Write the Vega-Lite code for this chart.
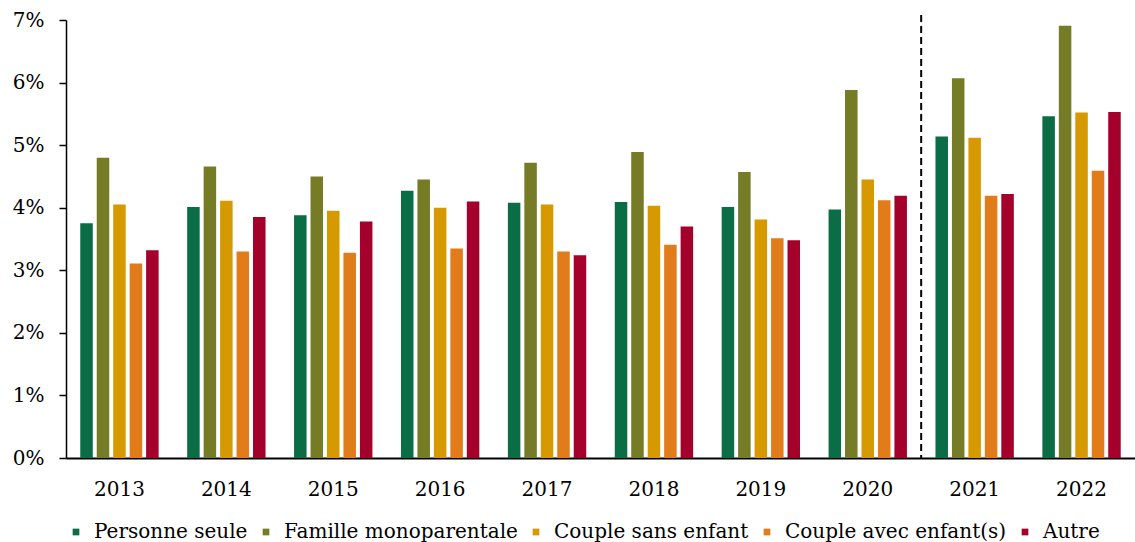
{
  "$schema": "https://vega.github.io/schema/vega-lite/v6.json",
  "width": 1069,
  "height": 438,
  "autosize": "none",
  "padding": {"left": 66, "top": 20, "right": 0, "bottom": 84},
  "background": "white",
  "config": {
    "view": {"stroke": null},
    "font": "DejaVu Serif",
    "axis": {"labelFont": "DejaVu Serif", "labelColor": "black", "domainColor": "black", "tickColor": "black"},
    "legend": {"labelFont": "DejaVu Serif", "labelColor": "black"}
  },
  "layer": [
    {
      "data": {
        "values": [
          {"year": "2013", "cat": "Personne seule", "v": 0.0375},
          {"year": "2013", "cat": "Famille monoparentale", "v": 0.0480},
          {"year": "2013", "cat": "Couple sans enfant", "v": 0.0405},
          {"year": "2013", "cat": "Couple avec enfant(s)", "v": 0.0311},
          {"year": "2013", "cat": "Autre", "v": 0.0332},
          {"year": "2014", "cat": "Personne seule", "v": 0.0401},
          {"year": "2014", "cat": "Famille monoparentale", "v": 0.0466},
          {"year": "2014", "cat": "Couple sans enfant", "v": 0.0411},
          {"year": "2014", "cat": "Couple avec enfant(s)", "v": 0.0330},
          {"year": "2014", "cat": "Autre", "v": 0.0385},
          {"year": "2015", "cat": "Personne seule", "v": 0.0388},
          {"year": "2015", "cat": "Famille monoparentale", "v": 0.0450},
          {"year": "2015", "cat": "Couple sans enfant", "v": 0.0395},
          {"year": "2015", "cat": "Couple avec enfant(s)", "v": 0.0328},
          {"year": "2015", "cat": "Autre", "v": 0.0378},
          {"year": "2016", "cat": "Personne seule", "v": 0.0427},
          {"year": "2016", "cat": "Famille monoparentale", "v": 0.0445},
          {"year": "2016", "cat": "Couple sans enfant", "v": 0.0400},
          {"year": "2016", "cat": "Couple avec enfant(s)", "v": 0.0335},
          {"year": "2016", "cat": "Autre", "v": 0.0410},
          {"year": "2017", "cat": "Personne seule", "v": 0.0408},
          {"year": "2017", "cat": "Famille monoparentale", "v": 0.0472},
          {"year": "2017", "cat": "Couple sans enfant", "v": 0.0405},
          {"year": "2017", "cat": "Couple avec enfant(s)", "v": 0.0330},
          {"year": "2017", "cat": "Autre", "v": 0.0324},
          {"year": "2018", "cat": "Personne seule", "v": 0.0409},
          {"year": "2018", "cat": "Famille monoparentale", "v": 0.0489},
          {"year": "2018", "cat": "Couple sans enfant", "v": 0.0403},
          {"year": "2018", "cat": "Couple avec enfant(s)", "v": 0.0341},
          {"year": "2018", "cat": "Autre", "v": 0.0370},
          {"year": "2019", "cat": "Personne seule", "v": 0.0401},
          {"year": "2019", "cat": "Famille monoparentale", "v": 0.0457},
          {"year": "2019", "cat": "Couple sans enfant", "v": 0.0381},
          {"year": "2019", "cat": "Couple avec enfant(s)", "v": 0.0351},
          {"year": "2019", "cat": "Autre", "v": 0.0348},
          {"year": "2020", "cat": "Personne seule", "v": 0.0397},
          {"year": "2020", "cat": "Famille monoparentale", "v": 0.0588},
          {"year": "2020", "cat": "Couple sans enfant", "v": 0.0445},
          {"year": "2020", "cat": "Couple avec enfant(s)", "v": 0.0412},
          {"year": "2020", "cat": "Autre", "v": 0.0419},
          {"year": "2021", "cat": "Personne seule", "v": 0.0514},
          {"year": "2021", "cat": "Famille monoparentale", "v": 0.0607},
          {"year": "2021", "cat": "Couple sans enfant", "v": 0.0512},
          {"year": "2021", "cat": "Couple avec enfant(s)", "v": 0.0419},
          {"year": "2021", "cat": "Autre", "v": 0.0422},
          {"year": "2022", "cat": "Personne seule", "v": 0.0546},
          {"year": "2022", "cat": "Famille monoparentale", "v": 0.0691},
          {"year": "2022", "cat": "Couple sans enfant", "v": 0.0552},
          {"year": "2022", "cat": "Couple avec enfant(s)", "v": 0.0459},
          {"year": "2022", "cat": "Autre", "v": 0.0553}
        ]
      },
      "mark": {"type": "bar"},
      "encoding": {
        "x": {
          "field": "year", "type": "nominal",
          "scale": {"paddingInner": 0.23, "paddingOuter": 0.115},
          "axis": {"title": null, "labelAngle": 0, "ticks": false, "labelFontSize": 20, "labelPadding": 21, "domainWidth": 2, "labelBaseline": "top"}
        },
        "xOffset": {
          "field": "cat", "type": "nominal",
          "sort": ["Personne seule", "Famille monoparentale", "Couple sans enfant", "Couple avec enfant(s)", "Autre"],
          "scale": {"paddingInner": 0.24, "paddingOuter": 0.12}
        },
        "y": {
          "field": "v", "type": "quantitative",
          "scale": {"domain": [0, 0.07], "nice": false},
          "axis": {"title": null, "format": ".0%", "values": [0, 0.01, 0.02, 0.03, 0.04, 0.05, 0.06, 0.07], "grid": false, "tickSize": 7, "labelFontSize": 20, "labelPadding": 15, "domainWidth": 1.5, "tickWidth": 1.5}
        },
        "color": {
          "field": "cat", "type": "nominal",
          "sort": ["Personne seule", "Famille monoparentale", "Couple sans enfant", "Couple avec enfant(s)", "Autre"],
          "scale": {
            "domain": ["Personne seule", "Famille monoparentale", "Couple sans enfant", "Couple avec enfant(s)", "Autre"],
            "range": ["#0A6D46", "#767B26", "#D69A00", "#E27C1A", "#A3002B"]
          },
          "legend": {
            "title": null, "orient": "none", "direction": "horizontal",
            "legendX": 0, "legendY": 502,
            "symbolType": "square", "symbolSize": 45, "symbolStrokeWidth": 0,
            "labelFontSize": 20, "labelOffset": 8, "columnPadding": 8, "labelLimit": 0
          }
        }
      }
    },
    {
      "data": {"values": [{"year": "2020"}]},
      "mark": {"type": "rule", "color": "black", "strokeWidth": 2, "strokeDash": [7, 4]},
      "encoding": {
        "x": {"field": "year", "type": "nominal", "bandPosition": 1.149},
        "y": {"datum": 0.0708, "type": "quantitative"},
        "y2": {"datum": 0}
      }
    }
  ]
}
